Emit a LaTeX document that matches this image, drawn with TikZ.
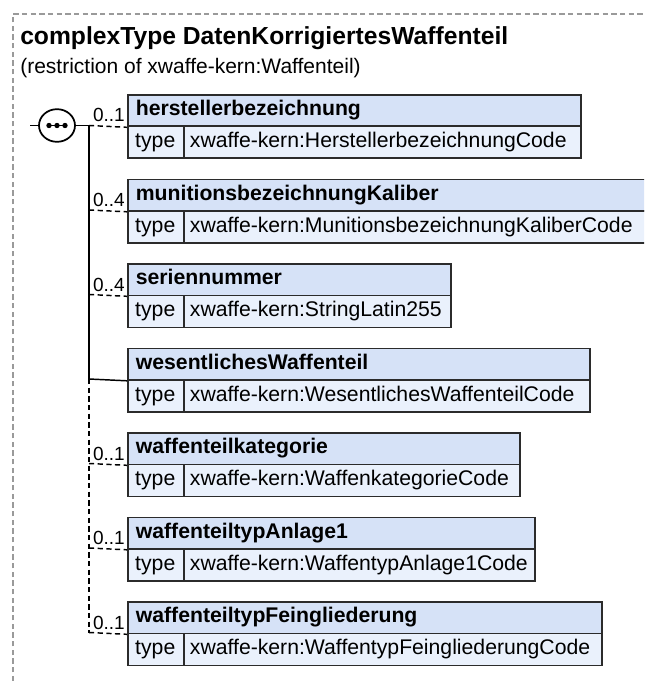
\documentclass[tikz,border=0pt]{standalone}
\usepackage{fontspec}
\setmainfont{Liberation Sans}
\usetikzlibrary{shapes.geometric}
\definecolor{hdrfill}{HTML}{D6E2F7}
\definecolor{typfill}{HTML}{EAF1FC}
\definecolor{bordc}{HTML}{2B2B2B}
\definecolor{framec}{HTML}{9A9A9A}
\tikzset{
  cell/.style={draw=bordc, line width=1.35pt, rectangle, anchor=north west,
    inner ysep=0pt, text height=11.4pt, text depth=3.4pt, align=left,
    font=\fontsize{15.9}{18}\selectfont},
  hdr/.style={cell, fill=hdrfill, minimum height=23.625pt, inner xsep=6pt,
    font=\fontsize{15.9}{18}\selectfont\bfseries, text width=#1},
  typ/.style={cell, fill=typfill, minimum height=24pt, inner xsep=5.5pt, text width=31pt},
  val/.style={cell, fill=typfill, minimum height=24pt, inner xsep=4.5pt, text width=#1},
  conn/.style={line width=1.1pt, black},
  opt/.style={conn, dash pattern=on 3.9pt off 2.6pt},
  lbl/.style={font=\fontsize{14.25}{16}\selectfont, anchor=base east, inner sep=0pt},
}
\begin{document}
\begin{tikzpicture}[x=0.75pt, y=-0.75pt]
\useasboundingbox (0,0) rectangle (644,681);
\clip (0,0) rectangle (644,681);
% frame
\draw[framec, line width=0.8pt, dash pattern=on 3.9pt off 2.6pt] (13,681) -- (13,14) -- (644,14);
% title
\node[anchor=base west, inner sep=0pt, font=\fontsize{18.5}{22}\selectfont\bfseries] (title) at (20,44.5) {complexType DatenKorrigiertesWaffenteil};
\node[anchor=base west, inner sep=0pt, font=\fontsize{15.75}{19}\selectfont] (sub) at (20,74) {(restriction of xwaffe-kern:Waffenteil)};

% boxes
\node[hdr=327.75pt] (h1) at (127,94) {herstellerbezeichnung};
\node[typ] (t1) at (127,125.5) {type};
\node[val=288.75pt] (v1) at (183,125.5) {xwaffe-kern:HerstellerbezeichnungCode};

\node[hdr=378pt] (h2) at (127,178.5) {munitionsbezeichnungKaliber};
\node[typ] (t2) at (127,210) {type};
\node[val=339pt] (v2) at (183,210) {xwaffe-kern:MunitionsbezeichnungKaliberCode};

\node[hdr=230.25pt] (h3) at (127,263) {seriennummer};
\node[typ] (t3) at (127,294.5) {type};
\node[val=191.25pt] (v3) at (183,294.5) {xwaffe-kern:StringLatin255};

\node[hdr=334.5pt] (h4) at (127,347.5) {wesentlichesWaffenteil};
\node[typ] (t4) at (127,379) {type};
\node[val=295.5pt] (v4) at (183,379) {xwaffe-kern:WesentlichesWaffenteilCode};

\node[hdr=282pt] (h5) at (127,432) {waffenteilkategorie};
\node[typ] (t5) at (127,463.5) {type};
\node[val=243pt] (v5) at (183,463.5) {xwaffe-kern:WaffenkategorieCode};

\node[hdr=293.25pt] (h6) at (127,516.5) {waffenteiltypAnlage1};
\node[typ] (t6) at (127,548) {type};
\node[val=254.25pt] (v6) at (183,548) {xwaffe-kern:WaffentypAnlage1Code};

\node[hdr=343.5pt] (h7) at (127,601) {waffenteiltypFeingliederung};
\node[typ] (t7) at (127,632.5) {type};
\node[val=304.5pt] (v7) at (183,632.5) {xwaffe-kern:WaffentypFeingliederungCode};

% sequence compositor
\node[draw, ellipse, line width=1.3pt, fill=white, minimum width=27pt, minimum height=24.5pt, inner sep=0pt] (seq) at (57,125.5) {};
\draw[line width=1pt] (47,125.5) -- (67,125.5);
\foreach \dx in {49,57,65} \fill (\dx,125.5) circle (2.7);
\coordinate (in) at (30,125.5);
\draw[conn] (in) -- (seq.west);

% junctions on the vertical line
\coordinate (j1) at (89,125.5);
\coordinate (j2) at (89,210);
\coordinate (j3) at (89,294.5);
\coordinate (j4) at (89,379);
\coordinate (j5) at (89,463.5);
\coordinate (j6) at (89,548);
\coordinate (j7) at (89,632.5);
\draw[conn] (seq.east) -- (j1);
\draw[conn] (j1) -- (j4);
\draw[opt] (j4) -- (j7);

\draw[opt] (j1) -- (h1.south west);
\draw[opt] (j2) -- (h2.south west);
\draw[opt] (j3) -- (h3.south west);
\draw[conn] (j4) -- (h4.south west);
\draw[opt] (j5) -- (h5.south west);
\draw[opt] (j6) -- (h6.south west);
\draw[opt] (j7) -- (h7.south west);

% occurrence labels
\node[lbl] (l1) at (125,122) {0..1};
\node[lbl] (l2) at (125,206.5) {0..4};
\node[lbl] (l3) at (125,291) {0..4};
\node[lbl] (l5) at (125,460) {0..1};
\node[lbl] (l6) at (125,544.5) {0..1};
\node[lbl] (l7) at (125,629) {0..1};
\end{tikzpicture}
\end{document}
